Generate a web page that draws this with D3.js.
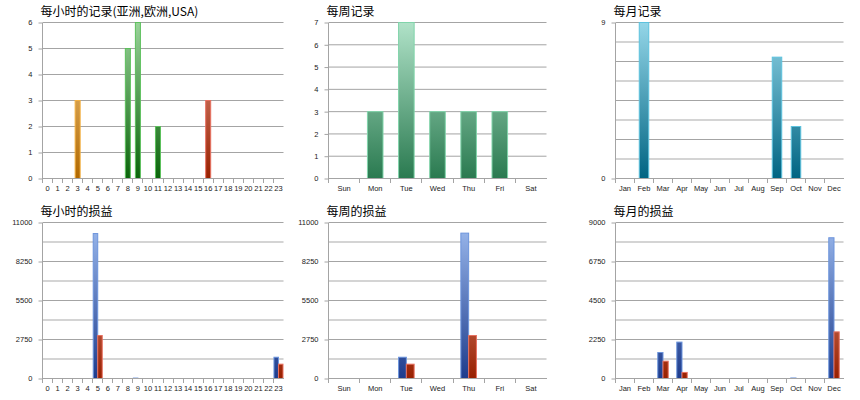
<!DOCTYPE html>
<html lang="zh">
<head>
<meta charset="UTF-8">
<title>记录与损益</title>
<script src="https://d3js.org/d3.v7.min.js"></script>
<style>
  body { margin: 0; background: #fff; }
  text { font-family: "Liberation Sans", Arial, sans-serif; font-size: 7.5px; fill: #222; }
  .title { font-family: "Noto Sans CJK SC", sans-serif; font-size: 12px; fill: #000; }
</style>
</head>
<body>
<div id="chart"></div>
<script>
// categories
const hours = ["0","1","2","3","4","5","6","7","8","9","10","11","12","13","14","15","16","17","18","19","20","21","22","23"];
const weekdays = ["Sun","Mon","Tue","Wed","Thu","Fri","Sat"];
const months = ["Jan","Feb","Mar","Apr","May","Jun","Jul","Aug","Sep","Oct","Nov","Dec"];

// records per hour, by region
const hourAsia   = [0,0,0,3,0,0,0,0,0,0,0,0,0,0,0,0,0,0,0,0,0,0,0,0];
const hourEurope = [0,0,0,0,0,0,0,0,5,6,0,2,0,0,0,0,0,0,0,0,0,0,0,0];
const hourUSA    = [0,0,0,0,0,0,0,0,0,0,0,0,0,0,0,0,3,0,0,0,0,0,0,0];
const weekRecords  = [0,3,7,3,3,3,0];
const monthRecords = [0,9,0,0,0,0,0,0,7,3,0,0];

// profit / loss
const hourGain  = [0,0,0,0,0,10220,0,0,0,30,0,0,0,0,0,0,0,0,0,0,0,0,0,1500];
const hourLoss  = [0,0,0,0,0,3030,0,0,0,0,0,0,0,0,0,0,0,0,0,0,0,0,0,1010];
const weekGain  = [0,0,1500,0,10250,0,0];
const weekLoss  = [0,0,1010,0,3030,0,0];
const monthGain = [0,0,1500,2100,0,0,0,0,0,30,0,8120];
const monthLoss = [0,0,1000,350,0,0,0,0,0,0,0,2690];

// tick labels
const hourRecordTicks  = [0,1,2,3,4,5,6];
const weekRecordTicks  = [0,1,2,3,4,5,6,7];
const monthRecordTicks = [0,9];
const monthRecordGrid  = [0,2.25,4.5,6.75,9];
const pnlTicks      = [0,2750,5500,8250,11000];
const monthPnlTicks = [0,2250,4500,6750,9000];

const svg = d3.select("#chart").append("svg")
    .attr("width", 860).attr("height", 400);

const defs = svg.append("defs");
const plotH = 156;
function grad(id, top, bottom) {
    const g = defs.append("linearGradient").attr("id", id)
        .attr("gradientUnits", "userSpaceOnUse")
        .attr("x1", 0).attr("y1", 0).attr("x2", 0).attr("y2", plotH);
    g.append("stop").attr("offset", "0%").attr("stop-color", top);
    g.append("stop").attr("offset", "100%").attr("stop-color", bottom);
}
grad("gAsia", "#f8d292", "#b06800");
grad("gEurope", "#9ad29a", "#0a640a");
grad("gUSA", "#e8a090", "#982000");
grad("gWeek", "#b0e2c8", "#2a7a50");
grad("gMonth", "#94d6e8", "#006482");
grad("gGain", "#9cbaee", "#1e3c8c");
grad("gLoss", "#f0b0a0", "#982000");

const cols = [[42, 283], [328, 546], [615, 843]];
const rows = [22, 222];

function panel(o) {
    const x0 = cols[o.col][0], x1 = cols[o.col][1];
    const w = x1 - x0;
    const g = svg.append("g").attr("transform", "translate(" + (x0 + 0.5) + "," + (rows[o.row] + 0.5) + ")");

    const x = d3.scaleBand().domain(o.cats).range([0, w]).padding(0);
    const y = d3.scaleLinear().domain([0, o.yMax]).range([plotH, 0]);

    g.append("text").attr("class", "title")
        .attr("x", -2).attr("y", -7).text(o.title);

    // grid
    const grid = o.grid || o.ticks;
    if (o.minor) {
        g.selectAll(".minor").data(d3.pairs(grid, (a, b) => (a + b) / 2)).enter()
            .append("line")
            .attr("x1", 0).attr("x2", w)
            .attr("y1", d => y(d)).attr("y2", d => y(d))
            .attr("stroke", "#d4d4d4").attr("stroke-width", 2);
    }
    g.selectAll(".major").data(grid).enter()
        .append("line")
        .attr("x1", 0).attr("x2", w)
        .attr("y1", d => y(d)).attr("y2", d => y(d))
        .attr("stroke", "#a4a4a4").attr("stroke-width", 1);

    // bars
    const inner = d3.scaleBand().domain(d3.range(o.series.length))
        .range([0, x.bandwidth() * o.frac]);
    o.series.forEach((s, si) => {
        g.selectAll(".bar" + si).data(s.values.map((v, i) => [o.cats[i], v]).filter(d => d[1] > 0))
            .enter().append("rect")
            .attr("x", d => x(d[0]) + x.bandwidth() * (1 - o.frac) / 2 + (o.overlay ? 0 : inner(si)))
            .attr("width", o.overlay ? x.bandwidth() * o.frac : inner.bandwidth())
            .attr("y", d => y(d[1]))
            .attr("height", d => plotH - y(d[1]))
            .attr("fill", "url(#" + s.fill + ")")
            .attr("stroke", s.stroke).attr("stroke-width", 1);
    });

    // axes
    const yAxis = d3.axisLeft(y).tickValues(o.ticks).tickSize(4).tickFormat(d3.format("d"));
    const ya = g.append("g").call(yAxis);
    ya.select(".domain").remove();
    ya.selectAll("line").attr("stroke", "#a4a4a4");
    ya.selectAll("text").attr("x", -10).attr("fill", "#222");

    const xAxis = d3.axisBottom(x).tickSize(0).tickPadding(0);
    const xa = g.append("g").attr("transform", "translate(0," + plotH + ")").call(xAxis);
    xa.select(".domain").remove();
    xa.selectAll("text").attr("y", 12).attr("dy", null).attr("fill", "#222");
    xa.selectAll(".sep").data(o.cats).enter().append("line")
        .attr("x1", d => x(d)).attr("x2", d => x(d))
        .attr("y1", 0).attr("y2", 4)
        .attr("stroke", "#a4a4a4").attr("shape-rendering", "crispEdges");
    xa.append("line").attr("x1", 0).attr("x2", w).attr("y1", 0).attr("y2", 0)
        .attr("stroke", "#a4a4a4").attr("shape-rendering", "crispEdges");
    g.append("line").attr("x1", 0).attr("x2", 0).attr("y1", 0).attr("y2", plotH + 4)
        .attr("stroke", "#a4a4a4").attr("shape-rendering", "crispEdges");
}

panel({ col: 0, row: 0, title: "每小时的记录(亚洲,欧洲,USA)", cats: hours, yMax: 6,
    ticks: hourRecordTicks, frac: 0.5, overlay: true,
    series: [{ values: hourAsia, fill: "gAsia", stroke: "#f4b040" },
             { values: hourEurope, fill: "gEurope", stroke: "#5cc05c" },
             { values: hourUSA, fill: "gUSA", stroke: "#e87060" }] });

panel({ col: 1, row: 0, title: "每周记录", cats: weekdays, yMax: 7,
    ticks: weekRecordTicks, frac: 0.5, overlay: true,
    series: [{ values: weekRecords, fill: "gWeek", stroke: "#80d4aa" }] });

panel({ col: 2, row: 0, title: "每月记录", cats: months, yMax: 9,
    ticks: monthRecordTicks, grid: monthRecordGrid, minor: true, frac: 0.5, overlay: true,
    series: [{ values: monthRecords, fill: "gMonth", stroke: "#5cc2de" }] });

panel({ col: 0, row: 1, title: "每小时的损益", cats: hours, yMax: 11000,
    ticks: pnlTicks, minor: true, frac: 0.9,
    series: [{ values: hourGain, fill: "gGain", stroke: "#6c94dc" },
             { values: hourLoss, fill: "gLoss", stroke: "#e87060" }] });

panel({ col: 1, row: 1, title: "每周的损益", cats: weekdays, yMax: 11000,
    ticks: pnlTicks, minor: true, frac: 0.5,
    series: [{ values: weekGain, fill: "gGain", stroke: "#6c94dc" },
             { values: weekLoss, fill: "gLoss", stroke: "#e87060" }] });

panel({ col: 2, row: 1, title: "每月的损益", cats: months, yMax: 9000,
    ticks: monthPnlTicks, minor: true, frac: 0.55,
    series: [{ values: monthGain, fill: "gGain", stroke: "#6c94dc" },
             { values: monthLoss, fill: "gLoss", stroke: "#e87060" }] });
</script>
</body>
</html>
